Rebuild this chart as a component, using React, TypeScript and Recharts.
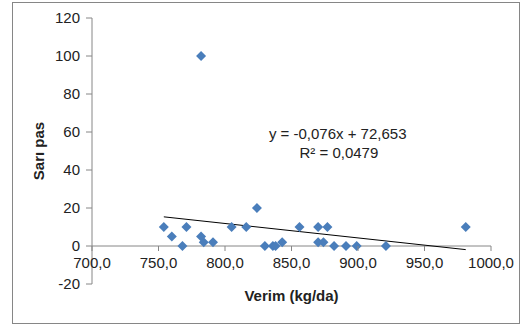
import {ReferenceDot, ReferenceLine, Scatter, ScatterChart, XAxis, YAxis} from 'recharts';

// Verim (kg/da) vs Sarı pas
const yieldValues = [754, 760, 768, 771, 782, 782, 784, 791, 805, 816, 824, 830, 836, 838, 843, 856, 870, 870, 874, 877, 882, 891, 899, 921, 981];
const rustValues = [10, 5, 0, 10, 100, 5, 2, 2, 10, 10, 20, 0, 0, 0, 2, 10, 2, 10, 2, 10, 0, 0, 0, 0, 10];

const xTicks = [700, 750, 800, 850, 900, 950, 1000];
const yTicks = [-20, 0, 20, 40, 60, 80, 100, 120];

// trendline as printed on the chart
const slope = -0.076;
const intercept = 72.653;
const equationText = 'y = -0,076x + 72,653';
const r2Text = 'R² = 0,0479';

const WIDTH = 524;
const HEIGHT = 329;
const TOP = 18;
const PLOT_H = 266;
const AXIS_GRAY = '#868686';
const POINT_BLUE = '#4A7EBB';
const FONT = 'Liberation Sans, Arial, sans-serif';

const fmtComma = (v: number) => v.toFixed(1).replace('.', ',');

// x axis crosses at y = 0, so ticks are lifted from the plot bottom
const zeroOffset = PLOT_H * (0 - yTicks[0]) / (yTicks[yTicks.length - 1] - yTicks[0]);

function XTick(props: any) {
    const {x, y, payload} = props;
    const zy = y - zeroOffset;
    return (
        <g>
            <line x1={x} x2={x} y1={zy} y2={zy + 5} stroke={AXIS_GRAY}/>
            <text x={x} y={zy + 22} textAnchor="middle" fontSize={15} fontFamily={FONT} fill="#222">
                {fmtComma(payload.value)}
            </text>
        </g>
    );
}

function Diamond(props: any) {
    const {cx, cy} = props;
    const r = 5;
    return <path d={`M${cx},${cy - r}L${cx + r},${cy}L${cx},${cy + r}L${cx - r},${cy}Z`} fill={POINT_BLUE}/>;
}

export default function App() {
    const data = yieldValues.map((x, i) => ({x, y: rustValues[i]}));
    const xMin = Math.min(...yieldValues);
    const xMax = Math.max(...yieldValues);

    return (
        <div style={{position: 'fixed', left: 0, top: 0, width: WIDTH, height: HEIGHT, background: '#fff'}}>
            <div style={{
                position: 'absolute', left: 12, top: 2, width: 508, height: 322,
                border: `1px solid ${AXIS_GRAY}`, boxSizing: 'border-box',
            }}/>
            <div style={{position: 'absolute', left: 0, top: 0}}>
                <ScatterChart width={WIDTH} height={HEIGHT} margin={{top: TOP, right: 33, left: 0, bottom: 0}}>
                    <XAxis
                        type="number"
                        dataKey="x"
                        domain={[700, 1000]}
                        ticks={xTicks}
                        height={HEIGHT - TOP - PLOT_H}
                        axisLine={false}
                        tickLine={false}
                        tickSize={0}
                        tickMargin={0}
                        tick={<XTick/>}
                        interval={0}
                        label={{
                            value: 'Verim (kg/da)', position: 'insideTop', offset: 6,
                            style: {fontSize: 15, fontWeight: 'bold', fontFamily: FONT, fill: '#222'},
                        }}
                    />
                    <YAxis
                        type="number"
                        dataKey="y"
                        domain={[-20, 120]}
                        ticks={yTicks}
                        width={92}
                        interval={0}
                        stroke={AXIS_GRAY}
                        tickSize={6}
                        tickMargin={6}
                        tick={{fontSize: 15, fontFamily: FONT, fill: '#222'}}
                        label={{
                            value: 'Sarı pas', angle: -90, position: 'center', dx: -7,
                            style: {fontSize: 15, fontWeight: 'bold', fontFamily: FONT, fill: '#222'},
                        }}
                    />
                    <ReferenceLine y={0} stroke={AXIS_GRAY}/>
                    <ReferenceLine
                        segment={[{x: xMin, y: slope * xMin + intercept}, {x: xMax, y: slope * xMax + intercept}]}
                        stroke="#000"
                        strokeWidth={1}
                        ifOverflow="visible"
                    />
                    <Scatter data={data} shape={<Diamond/>} isAnimationActive={false}/>
                    <ReferenceDot x={833} y={59} r={0} fill="none" stroke="none"
                                  label={{value: equationText, position: 'right', offset: 0,
                                      style: {fontSize: 15, fontFamily: FONT, fill: '#222'}}}/>
                    <ReferenceDot x={856} y={49} r={0} fill="none" stroke="none"
                                  label={{value: r2Text, position: 'right', offset: 0,
                                      style: {fontSize: 15, fontFamily: FONT, fill: '#222'}}}/>
                </ScatterChart>
            </div>
        </div>
    );
}
